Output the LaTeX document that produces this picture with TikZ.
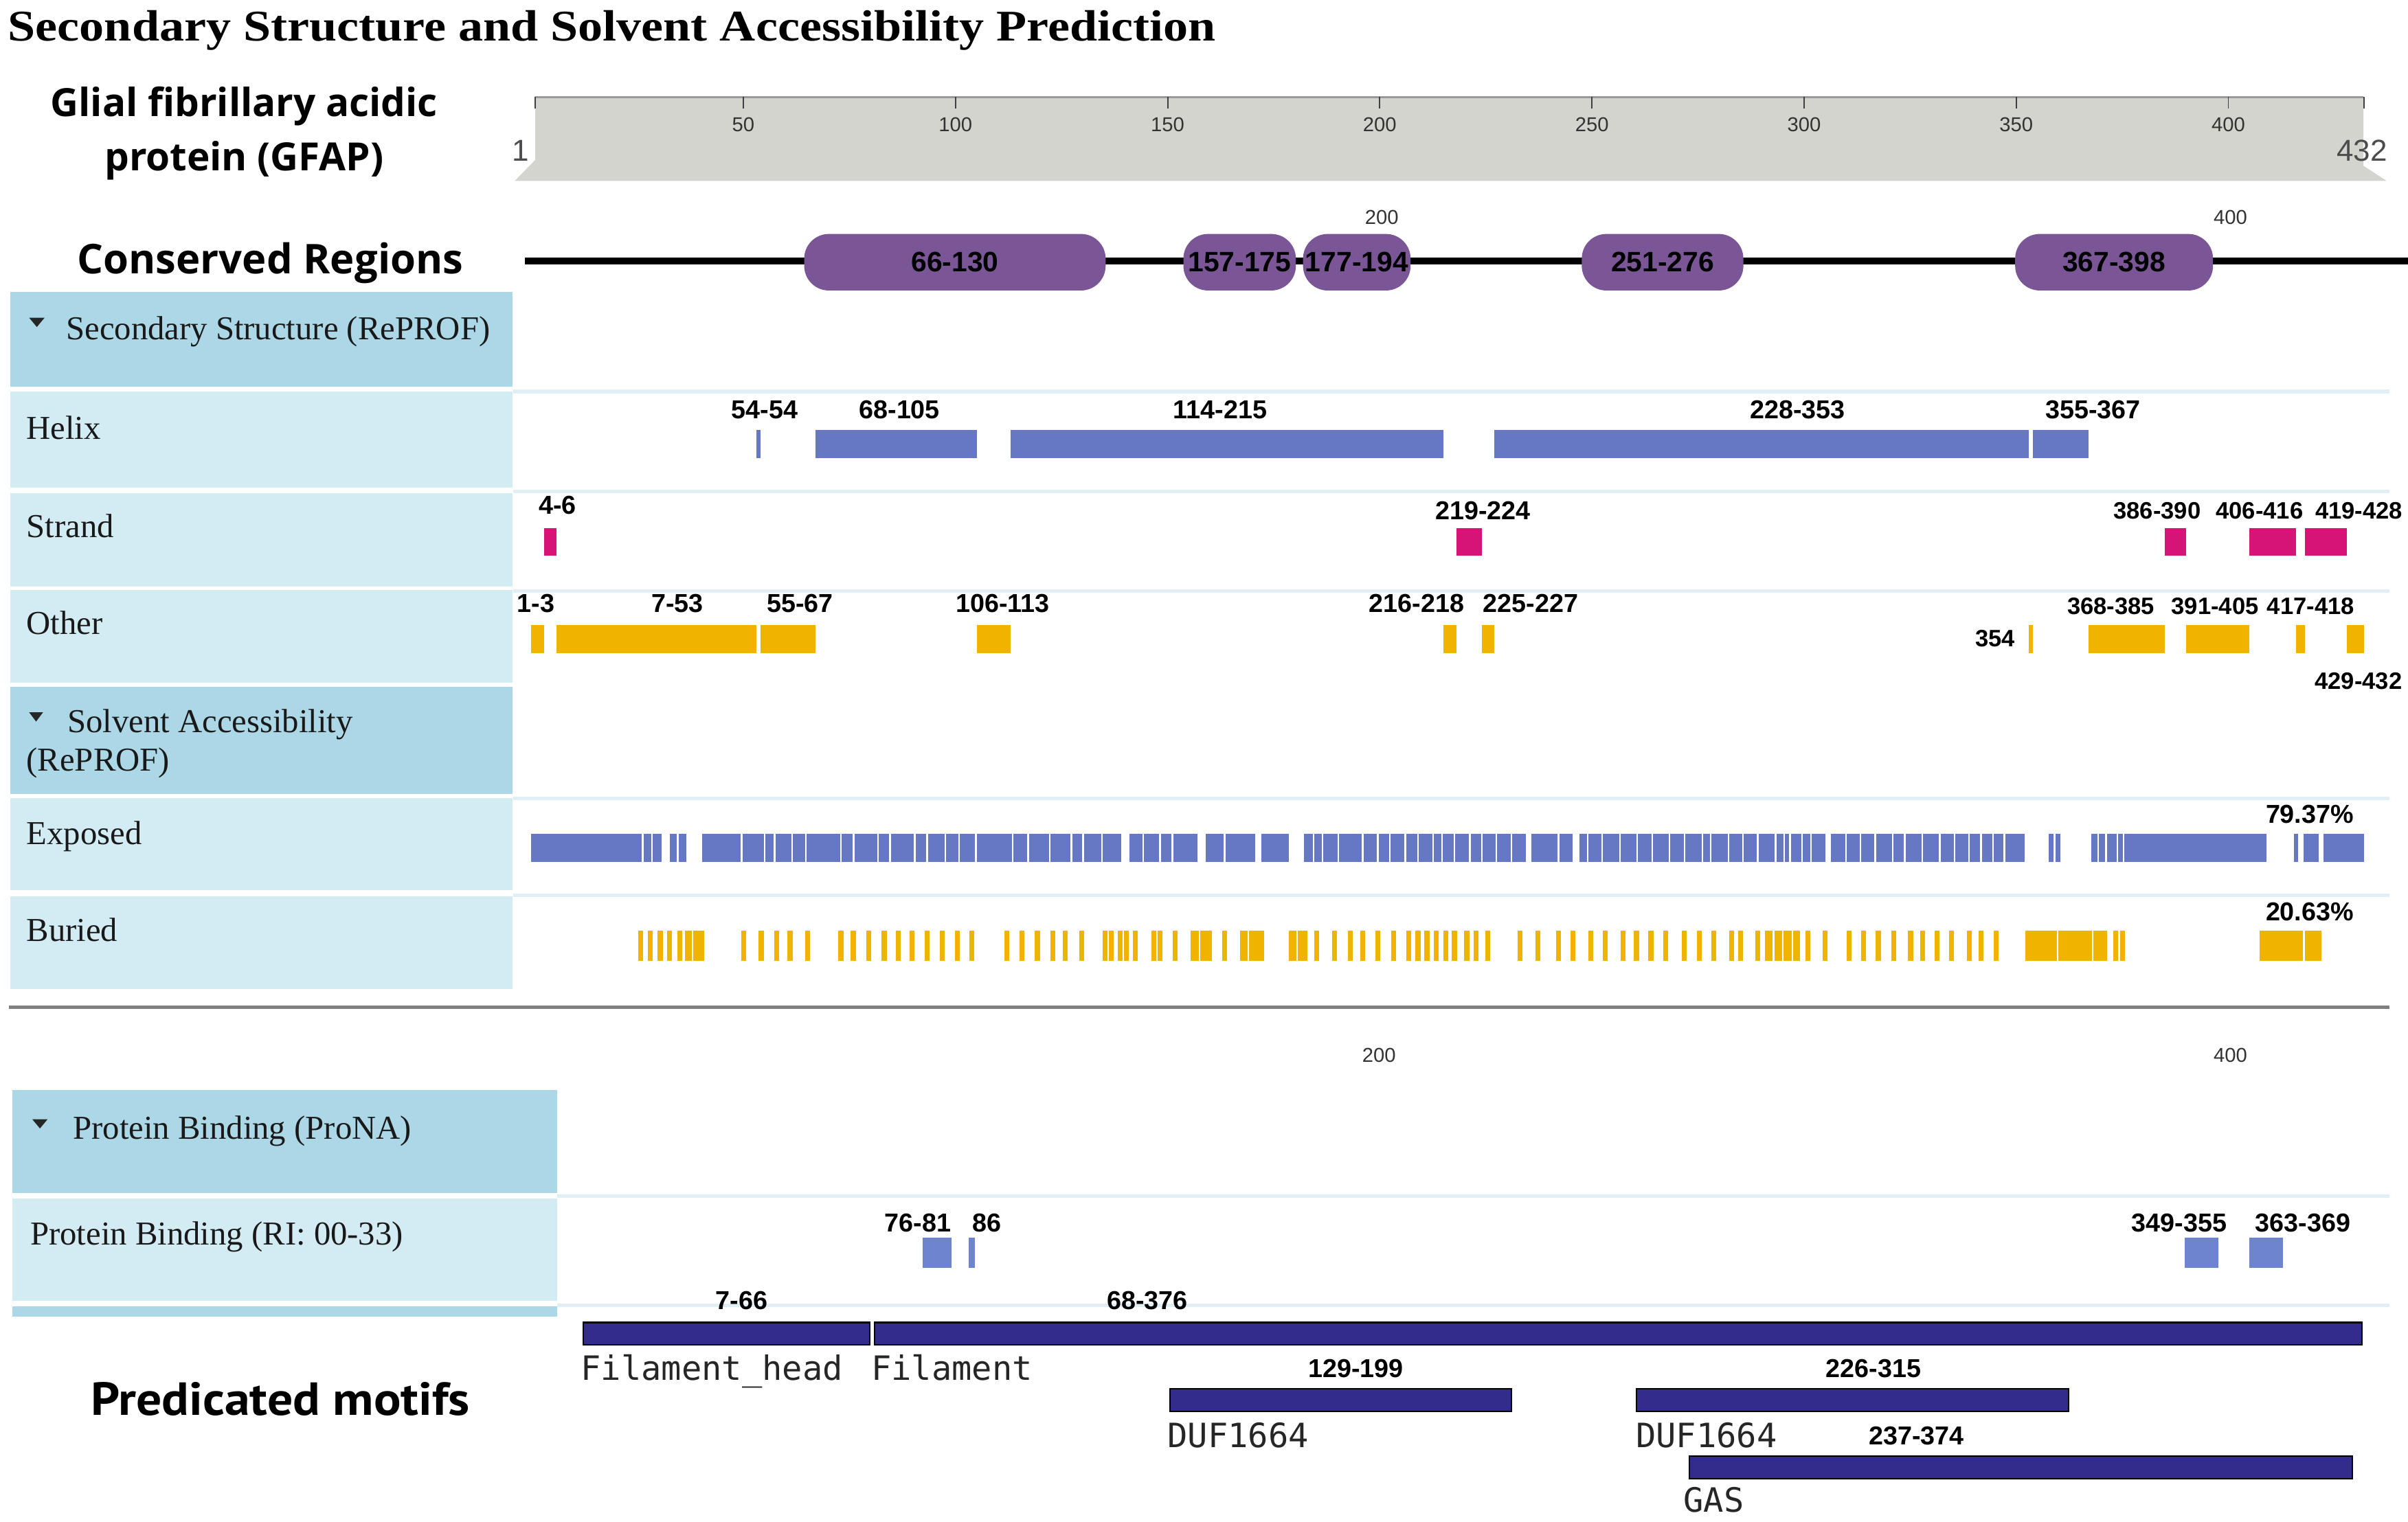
\documentclass[tikz,border=0pt]{standalone}
\usepackage{fontspec}
\setmainfont{Liberation Serif}
\newfontfamily\titlefont[FakeStretch=1.13]{Liberation Serif}
\newfontfamily\rangefont{Liberation Sans}
\newfontfamily\headfont{Open Sans}
\newfontfamily\motifhead[FakeStretch=1.09]{PT Sans}
\newfontfamily\monofnt{DejaVu Sans Mono}
\definecolor{panelhead}{RGB}{172,215,231}
\definecolor{panelrow}{RGB}{211,235,243}
\definecolor{rowlinec}{RGB}{224,239,243}
\definecolor{helixblue}{RGB}{102,120,195}
\definecolor{bindblue}{RGB}{110,132,206}
\definecolor{strandpink}{RGB}{214,20,120}
\definecolor{othergold}{RGB}{240,180,0}
\definecolor{pillpurple}{RGB}{122,86,150}
\definecolor{motifnavy}{RGB}{50,44,140}
\definecolor{rulergray}{RGB}{212,212,207}
\tikzset{
  rng/.style={font=\rangefont\bfseries\fontsize{12}{12}\selectfont, inner sep=0pt, anchor=base},
  rngsmall/.style={rng, font=\rangefont\bfseries\fontsize{11}{11}\selectfont},
  axisnum/.style={font=\rangefont\fontsize{9.3}{9.3}\selectfont, text=black!80, inner sep=0pt, anchor=base},
  rowtext/.style={font=\fontsize{15.5}{15.5}\selectfont, inner sep=0pt, anchor=base west, text=black!90},
  sidehead/.style={font=\headfont\bfseries\fontsize{18}{18}\selectfont, inner sep=0pt, anchor=base},
  pill/.style={fill=pillpurple, rounded corners=0.4cm, minimum height=0.92cm, inner sep=0pt,
    font=\rangefont\bfseries\fontsize{13}{13}\selectfont},
  motifbar/.style={fill=motifnavy, draw=black, line width=0.7pt},
  motifname/.style={font=\monofnt\fontsize{15.5}{15.5}\selectfont, inner sep=0pt, anchor=base west, text=black!85},
  rowline/.style={draw=rowlinec, line width=1.6pt},
}
\begin{document}
\begin{tikzpicture}[x=0.025cm, y=-0.025cm,
  declare function={rx(\r)=345.9+2.7628*\r; bx(\r)=375+3.01*\r; mx(\r)=361.2+3.13*\r;}]
\useasboundingbox (0,0) rectangle (1568,991);
\fill[white] (0,0) rectangle (1568,991);

% headings
\node[anchor=base west, inner sep=0pt, font=\titlefont\bfseries\fontsize{20.3}{20.3}\selectfont] (title) at (5,26.5)
  {Secondary Structure and Solvent Accessibility Prediction};
\node[sidehead] (gfap1) at (159,76) {Glial fibrillary acidic};
\node[sidehead] (gfap2) at (159,111) {protein (GFAP)};
\node[sidehead, font=\headfont\bfseries\fontsize{19}{19}\selectfont] (cons) at (176,178.2) {Conserved Regions};
\node[anchor=base west, inner sep=0pt, font=\motifhead\bfseries\fontsize{21.5}{21.5}\selectfont] (motifs) at (59,922)
  {Predicated motifs};

% ruler
\fill[rulergray] (348.4,63.3) -- (1539,63.3) -- (1539,108) -- (1554,117.8) -- (335.2,117.8) -- (348.4,104.3) -- cycle;
\draw[black!40, line width=1.2pt] (348.4,63.3) -- (1539,63.3);
\foreach \r in {1,50,100,150,200,250,300,350,400,432}
  \draw[black!75, line width=0.6pt] ({rx(\r)},63.3) -- ({rx(\r)},70.8);
\foreach \r in {50,100,150,200,250,300,350,400}
  \node[axisnum] (ax\r) at ({rx(\r)},85.7) {\r};
\node[font=\rangefont\fontsize{14}{14}\selectfont, text=black!70, inner sep=0pt, anchor=base] (rstart) at (339.2,105) {1};
\node[font=\rangefont\fontsize{14}{14}\selectfont, text=black!70, inner sep=0pt, anchor=base] (rend) at (1538,105) {432};

% conserved regions
\draw[line width=3.1pt] (342,170) -- (1568,170);
\node[axisnum] (cu200) at (899.8,146) {200};
\node[axisnum] (cu400) at (1452.4,146) {400};
\node[pill, minimum width=4.905cm] (c1) at (621.8,170.8) {66-130};
\node[pill, minimum width=1.83cm] (c2) at (807.2,170.8) {157-175};
\node[pill, minimum width=1.75cm] (c3) at (883.5,170.8) {177-194};
\node[pill, minimum width=2.63cm] (c4) at (1082.6,170.8) {251-276};
\node[pill, minimum width=3.22cm] (c5) at (1376.6,170.8) {367-398};

% left panel
\fill[panelhead] (6.8,190) rectangle (333.7,251.7);
\fill[panelhead] (6.8,447.4) rectangle (333.7,517);
\foreach \a/\b in {255.1/317.6,321.1/381.9,384.5/444.5,520/580,583.6/644.4}
  \fill[panelrow] (6.8,\a) rectangle (333.7,\b);
\foreach \y in {255,320,385,520,583}
  \draw[rowline] (334,\y) -- (1556,\y);
\fill[black!85] (19,207) -- (29,207) -- (24,213) -- cycle;
\fill[black!85] (19,464) -- (28,464) -- (23.5,470) -- cycle;
\node[rowtext] (sshead) at (42.8,221) {Secondary Structure (RePROF)};
\node[rowtext] (helix) at (17,286) {Helix};
\node[rowtext] (strand) at (17,350) {Strand};
\node[rowtext] (other) at (17,413) {Other};
\node[rowtext] (sahead) at (43.7,477) {Solvent Accessibility};
\node[rowtext] (sahead2) at (17,502) {(RePROF)};
\node[rowtext] (exposed) at (17,550) {Exposed};
\node[rowtext] (buried) at (17,613) {Buried};

% helix / strand / other
\foreach \a/\b in {54/54,68/105,114/215,228/353,355/367}
  \fill[helixblue] ({rx(\a-1)},280) rectangle ({rx(\b)},298.5);
\foreach \a/\b in {4/6,219/224,386/390,406/416,419/428}
  \fill[strandpink] ({rx(\a-1)},344) rectangle ({rx(\b)},362);
\foreach \a/\b in {1/3,7/53,55/67,106/113,216/218,225/227,354/354,368/385,391/405,417/418,429/432}
  \fill[othergold] ({rx(\a-1)},407) rectangle ({rx(\b)},425.5);
\foreach \t/\x [count=\i] in {54-54/498,68-105/585.7,114-215/794.5,228-353/1170.5,355-367/1362.8}
  \node[rng] (hl\i) at (\x,272.5) {\t};
\node[rng] (sl1) at (363,335) {4-6};
\node[rng] (sl2) at (965.6,338.5) {219-224};
\foreach \t/\x [count=\i from 3] in {386-390/1404.7,406-416/1471.3,419-428/1536}
  \node[rngsmall] (sl\i) at (\x,338) {\t};
\foreach \t/\x [count=\i] in {1-3/349,7-53/441,55-67/521,106-113/653,216-218/922.5,225-227/996.7}
  \node[rng] (ol\i) at (\x,399) {\t};
\foreach \t/\x [count=\i from 7] in {368-385/1374.6,391-405/1442.3,417-418/1504.6}
  \node[rngsmall] (ol\i) at (\x,400) {\t};
\node[rngsmall] (ol10) at (1299.3,421) {354};
\node[rngsmall] (ol11) at (1535.7,449) {429-432};

% exposed
\fill[helixblue] ({rx(0)},543) rectangle ({rx(432)},561.4);
\foreach \a/\b in {30.8/32.6,36.6/40.3,139/141,157/159,170.6/172.1,178.6/182.2,234.4/235.8,245.5/247,
    305/306.4,352/357.6,360.4/367.7,408.9/415.4,416.4/417.8,421.3/422.5}
  \fill[white] ({rx(\a)},543) rectangle ({rx(\b)},561.4);
\foreach \r in {26.3,28.5,34.5,49.6,55,57.4,61.5,64.7,73,76,81.7,84.6,90.4,93.3,97.6,100.8,104.8,
    113.5,117.1,122.2,127.3,130.1,134.5,144.2,148.2,151.1,163.4,184.4,186.5,190.2,196,199.5,202.4,
    206,209,212.6,214.7,217.6,221.2,224.1,227.5,231,242.1,249,252.4,256.6,260.7,264.2,268.3,271.8,
    276,278,282.2,285.6,289.1,293.3,295.3,296.7,299.5,301.6,309.9,313.3,316.8,320.9,323.7,327.9,
    332,335.5,338.9,341.7,344.5,347.2,359,369.3,371.2,373.8,375.3}
  \fill[white] ({rx(\r)-0.55},543) rectangle ({rx(\r)+0.55},561.4);

% buried
\foreach \a/\b in {36.2/40.8,155.4/160.5,167/172.8,178.6/183,290.8/299,352.1/371.4,407.4/422}
  \fill[othergold] ({rx(\a)},606) rectangle ({rx(\b)},626);
\foreach \r in {25.8,28,30.4,32.6,35,50.1,54.2,57.9,61,65.1,73,75.9,79.5,83.2,86.5,89.7,93.3,96.9,
    100.5,103.8,112.1,115.7,119.3,123,125.8,129.7,135.2,136.7,138.8,140.3,142.4,146.8,148.2,151.8,
    163.4,185.1,189.4,193,196,199.6,203.2,206.8,209,211.1,213.3,215.5,217.6,220.5,222.7,225.5,233.1,
    237.2,242.1,245.5,249.7,253.1,257.3,260.5,263.9,267.4,271.8,275.3,278.7,282.9,285,289.1,300.9,
    305,310.6,314,317.5,321.2,325.1,327.9,331.3,334.8,338.9,341.7,345.2,373.4,375}
  \fill[othergold] ({rx(\r)-1.6},606) rectangle ({rx(\r)+1.6},626);
\foreach \r in {38,157.5,169,180.5,292.8,295,297.2,359.7,368,417.8}
  \fill[white] ({rx(\r)-0.5},606) rectangle ({rx(\r)+0.5},626);
\node[rng] (pexp) at (1504,536) {79.37\%};
\node[rng] (pbur) at (1504,599.5) {20.63\%};

% separator
\draw[black!50, line width=1.6pt] (6,656) -- (1556,656);

% protein binding
\node[axisnum] (cl200) at (898,692) {200};
\node[axisnum] (cl400) at (1452.4,692) {400};
\fill[panelhead] (8,710) rectangle (363,777);
\fill[panelrow] (8,780.5) rectangle (363,847.5);
\fill[panelhead] (8,851) rectangle (363,857.4);
\foreach \y in {779,850}
  \draw[rowline] (363,\y) -- (1556,\y);
\fill[black!85] (21,729) -- (31,729) -- (26,735) -- cycle;
\node[rowtext] (pbhead) at (47.3,742) {Protein Binding (ProNA)};
\node[rowtext] (pbrow) at (19.5,811) {Protein Binding (RI: 00-33)};
\foreach \a/\b in {76/81,86/86,349/355,363/369}
  \fill[bindblue] ({bx(\a-1)},806) rectangle ({bx(\b)+1},826);
\foreach \t/\x [count=\i] in {76-81/597.7,86/642.5,349-355/1419,363-369/1499.5}
  \node[rng] (pl\i) at (\x,802.5) {\t};

% motifs
\foreach \a/\b/\y in {6/65.5/861.4,66.5/376/861.4,128/199/904.5,225/315/904.5,236/374/948.5}
  \draw[motifbar] ({mx(\a)},\y) rectangle ({mx(\b)},\y+14.7);
\node[rng] (ml1) at (483,853) {7-66};
\node[rng] (ml2) at (747,853) {68-376};
\node[rng] (ml3) at (882.8,897) {129-199};
\node[rng] (ml4) at (1220,897) {226-315};
\node[rng] (ml5) at (1248,941) {237-374};
\node[motifname] (fhead) at (378,899) {Filament\_head};
\node[motifname] (fil) at (567,899) {Filament};
\node[motifname] (duf1) at (760,943) {DUF1664};
\node[motifname] (duf2) at (1065,943) {DUF1664};
\node[motifname] (gas) at (1096,985) {GAS};
\end{tikzpicture}
\end{document}
